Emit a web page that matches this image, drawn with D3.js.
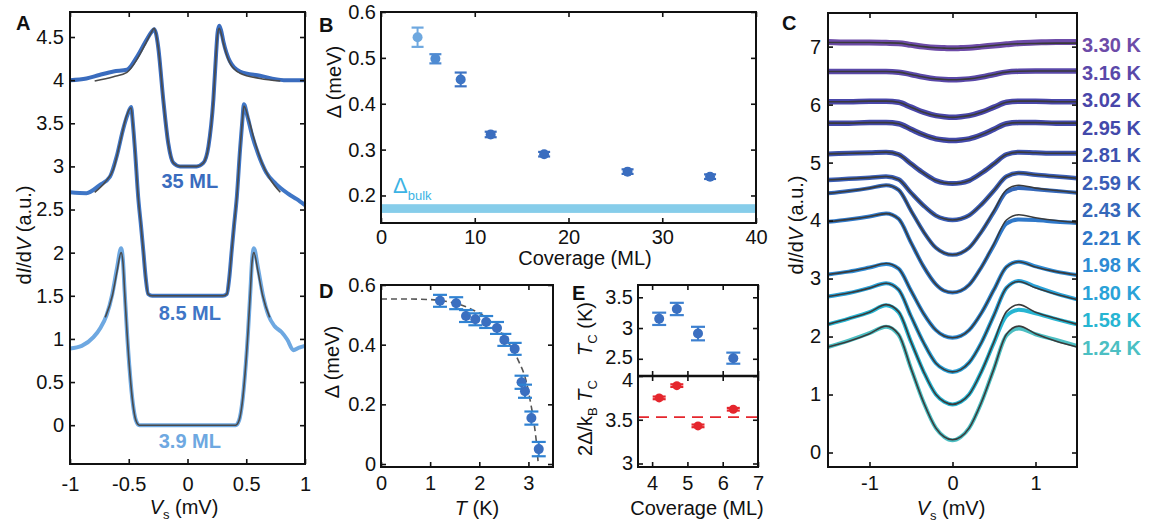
<!DOCTYPE html>
<html><head><meta charset="utf-8">
<script src="https://cdn.jsdelivr.net/npm/d3@7"></script>
<style>
body{margin:0;background:#fff;}
svg text{font-family:"Liberation Sans",Arial,Helvetica,sans-serif;}
</style></head><body>
<svg id="fig" width="1156" height="526"></svg>
<script>
// ---------- Panel A: dI/dV spectra for three coverages ----------
const aTicksX = [-1, -0.5, 0, 0.5, 1];
const aTicksY = [0, 0.5, 1, 1.5, 2, 2.5, 3, 3.5, 4, 4.5];

const a39DataV = [-1,-0.9,-0.8,-0.74,-0.69,-0.64,-0.6,-0.565,-0.55,-0.535,-0.515,-0.49,-0.465,-0.44,-0.41,-0.3,0,0.3,0.41,0.44,0.465,0.49,0.515,0.535,0.55,0.565,0.6,0.64,0.69,0.74,0.8,0.85,0.9,0.95,1];
const a39Data  = [0.89,0.92,1.02,1.13,1.27,1.52,1.82,2.05,1.92,1.55,1.08,0.6,0.25,0.06,0,0,0,0,0,0.06,0.25,0.6,1.08,1.55,1.92,2.05,1.82,1.52,1.27,1.15,1.08,0.99,0.87,0.9,0.92];
const a39FitV  = [-0.7,-0.64,-0.6,-0.565,-0.55,-0.535,-0.515,-0.49,-0.465,-0.44,-0.41,-0.3,0,0.3,0.41,0.44,0.465,0.49,0.515,0.535,0.55,0.565,0.6,0.64,0.7];
const a39Fit   = [1.25,1.5,1.78,2.0,1.9,1.55,1.08,0.6,0.25,0.06,0,0,0,0,0,0.06,0.25,0.6,1.08,1.55,1.9,2.0,1.78,1.5,1.25];

const a85DataV = [-1,-0.86,-0.75,-0.66,-0.6,-0.55,-0.51,-0.48,-0.465,-0.447,-0.42,-0.395,-0.376,-0.355,-0.335,-0.3,0,0.3,0.335,0.355,0.376,0.395,0.42,0.447,0.465,0.48,0.51,0.55,0.6,0.67,0.75,0.86,0.93,1];
const a85Data  = [2.70,2.69,2.78,2.88,3.13,3.42,3.6,3.69,3.5,3.19,2.65,2.3,2.02,1.7,1.52,1.5,1.5,1.5,1.52,1.7,2.02,2.3,2.65,3.19,3.5,3.72,3.58,3.36,3.15,2.93,2.8,2.68,2.62,2.55];
const a85FitV  = [-0.79,-0.7,-0.63,-0.57,-0.52,-0.48,-0.465,-0.447,-0.42,-0.395,-0.376,-0.355,-0.335,-0.3,0,0.3,0.335,0.355,0.376,0.395,0.42,0.447,0.465,0.48,0.52,0.57,0.63,0.7,0.79];
const a85Fit   = [2.70,2.82,2.97,3.3,3.58,3.68,3.5,3.19,2.65,2.3,2.02,1.7,1.52,1.5,1.5,1.5,1.52,1.7,2.02,2.3,2.65,3.19,3.5,3.70,3.55,3.3,3.05,2.86,2.7];

const a35DataV = [-1,-0.86,-0.75,-0.63,-0.515,-0.43,-0.347,-0.305,-0.285,-0.268,-0.249,-0.206,-0.164,-0.12,-0.064,0,0.078,0.135,0.178,0.22,0.243,0.256,0.27,0.285,0.305,0.36,0.447,0.617,0.82,1];
const a35Data  = [4.0,4.02,4.06,4.1,4.12,4.27,4.47,4.56,4.59,4.54,4.38,3.77,3.27,3.04,3.0,3.0,3.0,3.04,3.23,3.77,4.3,4.55,4.63,4.58,4.45,4.22,4.1,4.05,4.0,4.0];
const a35FitV  = [-0.79,-0.63,-0.515,-0.43,-0.347,-0.305,-0.285,-0.268,-0.249,-0.206,-0.164,-0.12,-0.064,0,0.078,0.135,0.178,0.22,0.243,0.256,0.27,0.285,0.305,0.36,0.447,0.617,0.79];
const a35Fit   = [3.99,4.04,4.09,4.24,4.45,4.56,4.6,4.54,4.38,3.77,3.27,3.04,3.0,3.0,3.0,3.04,3.23,3.77,4.3,4.53,4.6,4.55,4.43,4.2,4.08,4.02,3.99];

const aLabels = ["3.9 ML", "8.5 ML", "35 ML"];

// ---------- Panel B: gap versus coverage ----------
const bTicksX = [0, 10, 20, 30, 40];
const bTicksY = [0.2, 0.3, 0.4, 0.5, 0.6];
const bCoverage = [3.9, 5.8, 8.5, 11.7, 17.4, 26.3, 35.1];
const bGap      = [0.545, 0.498, 0.453, 0.333, 0.290, 0.252, 0.241];
const bGapErr   = [0.021, 0.010, 0.015, 0.006, 0.005, 0.005, 0.005];
const bBulkGap  = [0.162, 0.181];

// ---------- Panel C: temperature series of spectra ----------
const cTicksX = [-1, 0, 1];
const cTicksY = [0, 1, 2, 3, 4, 5, 6, 7];
const cV = [-1.5,-1.25,-1.0,-0.8,-0.65,-0.5,-0.35,-0.2,-0.1,0,0.1,0.2,0.35,0.5,0.65,0.8,1.0,1.25,1.5];
const cTemps = ["1.24 K","1.58 K","1.80 K","1.98 K","2.21 K","2.43 K","2.59 K","2.81 K","2.95 K","3.02 K","3.16 K","3.30 K"];

const c124Data = [1.82,1.93,2.06,2.17,2.03,1.45,0.87,0.42,0.27,0.21,0.27,0.42,0.87,1.45,2.02,2.14,2.04,1.94,1.84];
const c158Data = [2.21,2.31,2.42,2.54,2.42,1.91,1.40,1.00,0.875,0.83,0.875,1.00,1.40,1.90,2.36,2.46,2.40,2.30,2.21];
const c180Data = [2.69,2.75,2.84,2.92,2.81,2.35,1.90,1.54,1.43,1.39,1.43,1.55,1.90,2.37,2.84,2.96,2.86,2.74,2.64];
const c198Data = [3.07,3.12,3.19,3.25,3.17,2.79,2.40,2.11,2.01,1.98,2.01,2.11,2.41,2.81,3.20,3.29,3.21,3.12,3.06];
const c221Data = [3.98,4.02,4.07,4.12,4.03,3.62,3.21,2.90,2.79,2.76,2.79,2.89,3.20,3.58,3.95,4.02,4.01,3.98,3.96];
const c243Data = [4.47,4.51,4.56,4.61,4.53,4.17,3.81,3.53,3.44,3.41,3.44,3.53,3.81,4.15,4.49,4.56,4.54,4.51,4.48];
const c259Data = [4.70,4.72,4.74,4.76,4.71,4.48,4.26,4.085,4.03,4.01,4.03,4.09,4.28,4.52,4.76,4.82,4.79,4.76,4.73];
const c281Data = [5.15,5.16,5.17,5.18,5.14,4.98,4.82,4.69,4.65,4.64,4.65,4.69,4.82,4.98,5.14,5.18,5.17,5.16,5.16];
const c295Data = [5.68,5.68,5.69,5.69,5.67,5.575,5.48,5.41,5.39,5.38,5.39,5.41,5.48,5.575,5.67,5.69,5.69,5.68,5.68];
const c302Data = [6.05,6.05,6.06,6.06,6.04,5.956,5.87,5.81,5.79,5.78,5.79,5.81,5.87,5.956,6.04,6.06,6.06,6.05,6.05];
const c316Data = [6.57,6.57,6.57,6.57,6.56,6.52,6.476,6.444,6.434,6.43,6.434,6.444,6.476,6.52,6.56,6.575,6.58,6.58,6.58];
const c330Data = [7.08,7.07,7.07,7.065,7.06,7.03,7.0,6.98,6.975,6.97,6.975,6.98,7.0,7.02,7.04,7.06,7.07,7.08,7.08];

const c124Fit = [1.82,1.92,2.05,2.18,2.04,1.45,0.87,0.42,0.27,0.22,0.27,0.42,0.87,1.45,2.04,2.18,2.05,1.92,1.82];
const c158Fit = [2.21,2.31,2.42,2.55,2.43,1.91,1.40,1.00,0.875,0.83,0.875,1.00,1.40,1.91,2.43,2.55,2.42,2.31,2.21];
const c180Fit = [2.69,2.75,2.835,2.92,2.81,2.35,1.90,1.54,1.43,1.39,1.43,1.55,1.90,2.37,2.84,2.95,2.84,2.73,2.64];
const c198Fit = [3.07,3.12,3.19,3.26,3.17,2.79,2.40,2.11,2.01,1.98,2.01,2.11,2.41,2.81,3.20,3.29,3.20,3.12,3.06];
const c221Fit = [3.98,4.02,4.07,4.12,4.03,3.62,3.21,2.90,2.79,2.76,2.79,2.89,3.20,3.60,4.01,4.10,4.05,4.00,3.96];
const c243Fit = [4.47,4.51,4.56,4.61,4.53,4.17,3.81,3.53,3.44,3.41,3.44,3.53,3.81,4.17,4.53,4.61,4.56,4.52,4.48];
const c259Fit = [4.70,4.72,4.74,4.76,4.71,4.48,4.26,4.085,4.03,4.01,4.03,4.09,4.28,4.52,4.76,4.82,4.79,4.76,4.73];
const c281Fit = [5.15,5.16,5.17,5.18,5.14,4.98,4.82,4.69,4.65,4.64,4.65,4.69,4.82,4.98,5.14,5.18,5.17,5.16,5.16];
const c295Fit = [5.68,5.68,5.69,5.69,5.67,5.575,5.48,5.41,5.39,5.38,5.39,5.41,5.48,5.575,5.67,5.69,5.69,5.68,5.68];
const c302Fit = [6.05,6.05,6.06,6.06,6.04,5.956,5.87,5.81,5.79,5.78,5.79,5.81,5.87,5.956,6.04,6.06,6.06,6.05,6.05];
const c316Fit = [6.57,6.57,6.57,6.57,6.56,6.52,6.476,6.444,6.434,6.43,6.434,6.444,6.476,6.52,6.56,6.575,6.58,6.58,6.58];
const c330Fit = [7.07,7.07,7.07,7.065,7.06,7.03,7.0,6.98,6.975,6.97,6.975,6.98,7.0,7.02,7.04,7.05,7.055,7.06,7.06];

// ---------- Panel D: gap versus temperature ----------
const dTicksX = [0, 1, 2, 3];
const dTicksY = [0, 0.2, 0.4, 0.6];
const dTemp   = [1.20, 1.53, 1.73, 1.92, 2.14, 2.36, 2.51, 2.72, 2.86, 2.93, 3.06, 3.21];
const dGap    = [0.547, 0.539, 0.496, 0.485, 0.476, 0.456, 0.416, 0.386, 0.274, 0.244, 0.154, 0.050];
const dGapErr = [0.02, 0.02, 0.02, 0.02, 0.02, 0.02, 0.02, 0.02, 0.022, 0.022, 0.022, 0.024];
const dFitT   = [0, 0.6, 1.0, 1.4, 1.8, 2.1, 2.4, 2.6, 2.8, 2.95, 3.05, 3.12, 3.17, 3.2];
const dFitGap = [0.553, 0.553, 0.551, 0.543, 0.522, 0.495, 0.45, 0.405, 0.345, 0.28, 0.2, 0.13, 0.06, 0.0];

// ---------- Panel E: Tc and gap ratio versus coverage ----------
const eTicksX   = [4, 5, 6, 7];
const eTicksTc  = [2.5, 3, 3.5];
const eTicksRat = [3, 3.5, 4];
const eCoverage = [4.2, 4.7, 5.3, 6.3];
const eTc       = [3.15, 3.31, 2.91, 2.51];
const eTcErr    = [0.10, 0.10, 0.11, 0.09];
const eRatio    = [3.75, 3.89, 3.43, 3.62];
const eRatioErr = [0.015, 0.015, 0.015, 0.015];
const eBCS      = 3.53;

// ---------- drawing ----------
const svg = d3.select("#fig");
const TICK = 5;
const TICK_FONT = 20;
const TITLE_FONT = 20;

function frame(g, x, y, o) {
  const [x0, x1] = x.range();
  const [y0, y1] = y.range();
  const fx = o.fmtX || (d => String(d));
  const fy = o.fmtY || (d => String(d));
  const bottom = g.append("g").attr("transform", `translate(0,${y0})`)
    .call(d3.axisBottom(x).tickValues(o.xTicks).tickSize(-TICK).tickPadding(o.xPad || 9)
      .tickFormat(o.noX ? () => "" : fx));
  const top = g.append("g").attr("transform", `translate(0,${y1})`)
    .call(d3.axisTop(x).tickValues(o.xTicks).tickSize(-TICK).tickFormat(() => ""));
  const left = g.append("g").attr("transform", `translate(${x0},0)`)
    .call(d3.axisLeft(y).tickValues(o.yTicks).tickSize(-TICK).tickPadding(o.yPad || 5).tickFormat(fy));
  const right = g.append("g").attr("transform", `translate(${x1},0)`)
    .call(d3.axisRight(y).tickValues(o.yTicks).tickSize(-TICK).tickFormat(() => ""));
  [bottom, top, left, right].forEach(a => {
    a.select(".domain").remove();
    a.attr("font-family", null).attr("font-size", null);
    a.selectAll("line").attr("stroke", "#111").attr("stroke-width", 1.6);
    a.selectAll("text").attr("font-size", TICK_FONT).attr("fill", "#111");
  });
  g.append("rect").attr("x", x0).attr("y", y1).attr("width", x1 - x0).attr("height", y0 - y1)
    .attr("fill", "none").attr("stroke", "#111").attr("stroke-width", 2);
  return left;
}

function yTitle(g, x, y, parts) {
  const t = g.append("text").attr("transform", `translate(${x},${y}) rotate(-90)`)
    .attr("text-anchor", "middle").attr("font-size", TITLE_FONT).attr("fill", "#111");
  addParts(t, parts);
}
function xTitle(g, x, y, parts) {
  const t = g.append("text").attr("x", x).attr("y", y)
    .attr("text-anchor", "middle").attr("font-size", TITLE_FONT).attr("fill", "#111");
  addParts(t, parts);
}
function addParts(t, parts) {
  let shift = 0;
  parts.forEach(p => {
    const s = t.append("tspan").text(p.t);
    if (p.i) s.attr("font-style", "italic");
    if (p.sub) { s.attr("font-size", 13).attr("dy", 5 - shift); shift = 5; }
    else if (shift) { s.attr("dy", -shift); shift = 0; }
  });
}
function panelLetter(x, y, s) {
  svg.append("text").attr("x", x).attr("y", y).attr("font-size", 20)
    .attr("font-weight", "bold").attr("fill", "#111").text(s);
}
function errorBars(g, x, y, xs, ys, es, opt) {
  const grp = g.append("g");
  xs.forEach((v, i) => {
    const cx = x(v), lo = y(ys[i] - es[i]), hi = y(ys[i] + es[i]);
    const w = opt.cap / 2;
    grp.append("line").attr("x1", cx).attr("x2", cx).attr("y1", lo).attr("y2", hi)
      .attr("stroke", opt.bar(i)).attr("stroke-width", 2);
    [lo, hi].forEach(yy => grp.append("line").attr("x1", cx - w).attr("x2", cx + w)
      .attr("y1", yy).attr("y2", yy).attr("stroke", opt.bar(i)).attr("stroke-width", 2.2));
    grp.append("circle").attr("cx", cx).attr("cy", y(ys[i])).attr("r", opt.r)
      .attr("fill", opt.dot(i));
  });
}
const zip = (a, b) => a.map((v, i) => [v, b[i]]);

// ----- Panel A -----
const xA = d3.scaleLinear().domain([-1, 1]).range([70, 305]);
const yA = d3.scaleLinear().domain([-0.45, 4.79]).range([464, 12]);
const gA = svg.append("g");
const lineA = d3.line().x(d => xA(d[0])).y(d => yA(d[1])).curve(d3.curveMonotoneX);
const aColors = ["#6ea8e1", "#3f76c6", "#3a6cbe"];
[[a39DataV, a39Data], [a85DataV, a85Data], [a35DataV, a35Data]].forEach((s, i) => {
  gA.append("path").attr("d", lineA(zip(s[0], s[1]))).attr("fill", "none")
    .attr("stroke", aColors[i]).attr("stroke-width", 4).attr("stroke-linejoin", "round");
});
[[a39FitV, a39Fit], [a85FitV, a85Fit], [a35FitV, a35Fit]].forEach(s => {
  gA.append("path").attr("d", lineA(zip(s[0], s[1]))).attr("fill", "none")
    .attr("stroke", "#4a4a4a").attr("stroke-width", 1.6);
});
frame(gA, xA, yA, { xTicks: aTicksX, yTicks: aTicksY, xPad: 13, yPad: 6 });
const aLabelY = [-0.27, 1.22, 2.75];
aLabels.forEach((s, i) => {
  gA.append("text").attr("x", xA(0.02)).attr("y", yA(aLabelY[i])).attr("text-anchor", "middle")
    .attr("font-size", 20).attr("font-weight", "bold").attr("fill", aColors[i]).text(s);
});
yTitle(gA, 31, 235, [{ t: "d" }, { t: "I", i: 1 }, { t: "/d" }, { t: "V", i: 1 }, { t: " (a.u.)" }]);
xTitle(gA, 184, 514, [{ t: "V", i: 1 }, { t: "s", sub: 1 }, { t: " (mV)" }]);
panelLetter(16, 30, "A");

// ----- Panel B -----
const xB = d3.scaleLinear().domain([0, 40]).range([381, 756]);
const yB = d3.scaleLinear().domain([0.14, 0.6]).range([223, 12]);
const gB = svg.append("g");
gB.append("rect").attr("x", xB(0)).attr("width", xB(40) - xB(0))
  .attr("y", yB(bBulkGap[1])).attr("height", yB(bBulkGap[0]) - yB(bBulkGap[1])).attr("fill", "#86cdea");
const bDot = ["#6ea8df", "#4f8bd2", "#3d74c4", "#3a6dbf", "#3a6dbf", "#3a6dbf", "#3a6dbf"];
errorBars(gB, xB, yB, bCoverage, bGap, bGapErr, { cap: 12, r: 5, bar: i => bDot[i], dot: i => bDot[i] });
frame(gB, xB, yB, { xTicks: bTicksX, yTicks: bTicksY, xPad: 7, yPad: 5 });
const bl = gB.append("text").attr("x", 393).attr("y", 193).attr("fill", "#3cb3e4").attr("font-size", 22);
bl.append("tspan").text("Δ");
bl.append("tspan").attr("font-size", 13).attr("dy", 7).text("bulk");
yTitle(gB, 341, 82, [{ t: "Δ (meV)" }]);
xTitle(gB, 585, 265, [{ t: "Coverage (ML)" }]);
panelLetter(319, 32, "B");

// ----- Panel C -----
const xC = d3.scaleLinear().domain([-1.5, 1.5]).range([828, 1077]);
const yC = d3.scaleLinear().domain([-0.25, 7.58]).range([467, 13]);
const gC = svg.append("g");
const lineC = d3.line().x(d => xC(d[0])).y(d => yC(d[1])).curve(d3.curveMonotoneX);
const cColors = ["#4cbfc3", "#27b5d2", "#2aa2d8", "#2e8bd4", "#2f78c9", "#3568ba", "#3a5eb7", "#3d52af", "#4349aa", "#4946a9", "#5a48a9", "#6d4ba8"];
const cWidth  = [4, 4, 4, 4, 4, 4, 4.5, 5, 5.5, 5.5, 5.5, 6];
const cData = [c124Data, c158Data, c180Data, c198Data, c221Data, c243Data, c259Data, c281Data, c295Data, c302Data, c316Data, c330Data];
const cFit  = [c124Fit, c158Fit, c180Fit, c198Fit, c221Fit, c243Fit, c259Fit, c281Fit, c295Fit, c302Fit, c316Fit, c330Fit];
cData.forEach((s, i) => {
  gC.append("path").attr("d", lineC(zip(cV, s))).attr("fill", "none")
    .attr("stroke", cColors[i]).attr("stroke-width", cWidth[i]).attr("stroke-linejoin", "round");
});
cFit.forEach(s => {
  gC.append("path").attr("d", lineC(zip(cV, s))).attr("fill", "none")
    .attr("stroke", "#3a3a3a").attr("stroke-width", 1.6);
});
frame(gC, xC, yC, { xTicks: cTicksX, yTicks: cTicksY, xPad: 9, yPad: 7 });
cTemps.forEach((s, i) => {
  gC.append("text").attr("x", 1082).attr("y", 354.5 - i * 27.5)
    .attr("font-size", 20).attr("font-weight", "bold").attr("fill", cColors[i]).text(s);
});
yTitle(gC, 803, 225, [{ t: "d" }, { t: "I", i: 1 }, { t: "/d" }, { t: "V", i: 1 }, { t: " (a.u.)" }]);
xTitle(gC, 951, 515, [{ t: "V", i: 1 }, { t: "s", sub: 1 }, { t: " (mV)" }]);
panelLetter(782, 30, "C");

// ----- Panel D -----
const xD = d3.scaleLinear().domain([0, 3.5]).range([381, 553]);
const yD = d3.scaleLinear().domain([-0.01, 0.6]).range([467, 285]);
const gD = svg.append("g");
const lineD = d3.line().x(d => xD(d[0])).y(d => yD(d[1])).curve(d3.curveMonotoneX);
gD.append("path").attr("d", lineD(zip(dFitT, dFitGap))).attr("fill", "none")
  .attr("stroke", "#555").attr("stroke-width", 1.6).attr("stroke-dasharray", "6,4");
errorBars(gD, xD, yD, dTemp, dGap, dGapErr, { cap: 14, r: 5, bar: () => "#2f82d2", dot: () => "#3b6fc0" });
frame(gD, xD, yD, { xTicks: dTicksX, yTicks: dTicksY, xPad: 9, yPad: 5 });
yTitle(gD, 339, 362, [{ t: "Δ (meV)" }]);
xTitle(gD, 477, 515, [{ t: "T", i: 1 }, { t: " (K)" }]);
panelLetter(319, 298, "D");

// ----- Panel E -----
const xE  = d3.scaleLinear().domain([3.6, 7]).range([638, 758]);
const yE1 = d3.scaleLinear().domain([2.22, 3.7]).range([376, 285]);
const yE2 = d3.scaleLinear().domain([2.96, 4.0]).range([467, 376]);
const gE = svg.append("g");
gE.append("line").attr("x1", xE(3.6)).attr("x2", xE(7)).attr("y1", yE2(eBCS)).attr("y2", yE2(eBCS))
  .attr("stroke", "#e5262d").attr("stroke-width", 1.8).attr("stroke-dasharray", "11,7");
errorBars(gE, xE, yE1, eCoverage, eTc, eTcErr, { cap: 14, r: 5, bar: () => "#3d80d0", dot: () => "#3b6fc0" });
errorBars(gE, xE, yE2, eCoverage, eRatio, eRatioErr, { cap: 13, r: 4.5, bar: () => "#e5262d", dot: () => "#e5262d" });
const eTopLeft = frame(gE, xE, yE1, { xTicks: eTicksX, yTicks: eTicksTc, noX: true, yPad: 5 });
const eBotLeft = frame(gE, xE, yE2, { xTicks: eTicksX, yTicks: eTicksRat, xPad: 9, yPad: 5 });
// keep the "2.5" and "4" labels either side of the divider apart
eTopLeft.selectAll("text").filter(d => d === 2.5).attr("dy", "0.22em");
eBotLeft.selectAll("text").filter(d => d === 4).attr("dy", "0.5em");
gE.append("line").attr("x1", xE(3.6)).attr("x2", xE(7)).attr("y1", 376).attr("y2", 376)
  .attr("stroke", "#111").attr("stroke-width", 2.6);
yTitle(gE, 592, 329, [{ t: "T", i: 1 }, { t: "C", sub: 1 }, { t: " (K)" }]);
yTitle(gE, 592, 418, [{ t: "2Δ/k" }, { t: "B", sub: 1 }, { t: " " }, { t: "T", i: 1 }, { t: "C", sub: 1 }]);
xTitle(gE, 697, 515, [{ t: "Coverage (ML)" }]);
panelLetter(572, 300, "E");
</script>
</body></html>
